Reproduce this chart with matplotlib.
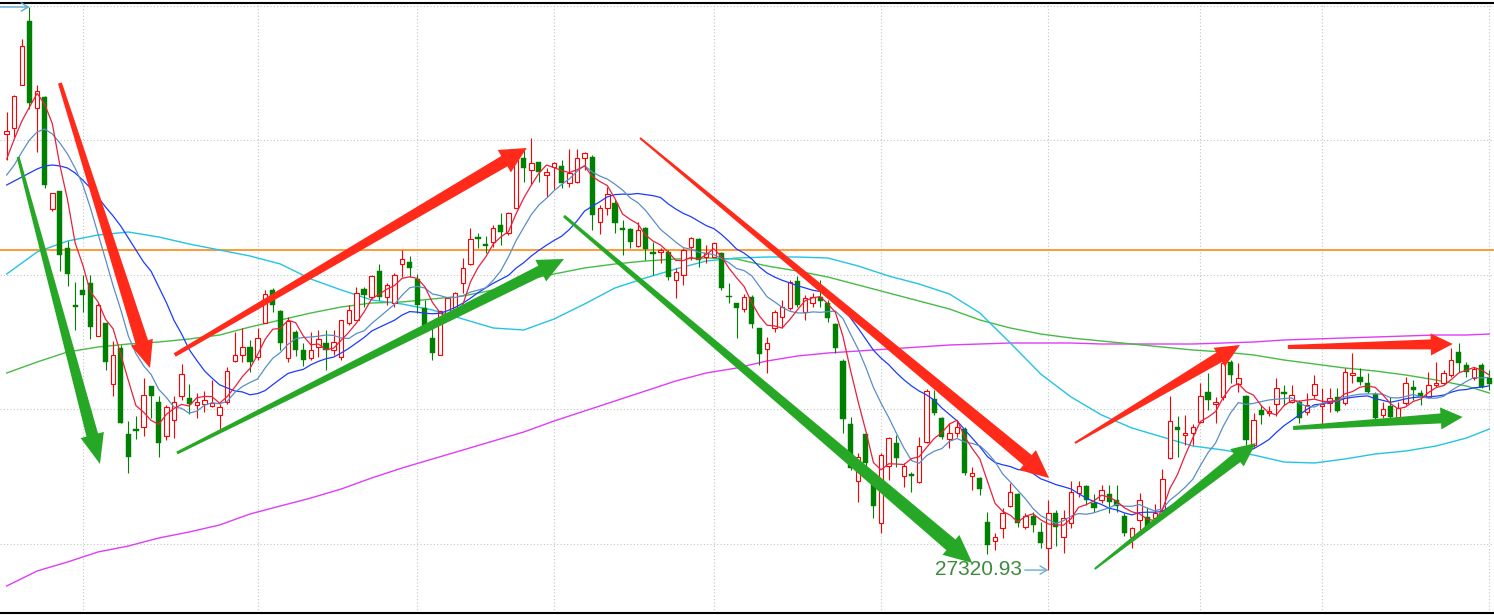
import numpy as np
import pandas as pd
import matplotlib
matplotlib.use("Agg")
import matplotlib.pyplot as plt
from matplotlib.patches import Polygon
from matplotlib.transforms import IdentityTransform

# ---------------- data ----------------
opens = [27757, 27763, 27806, 27870, 27783, 27794, 27682, 27700, 27643, 27586,
         27601, 27608, 27555, 27568, 27507, 27543, 27457, 27462, 27464, 27505,
         27489, 27455, 27471, 27495, 27493, 27486, 27487, 27485, 27476, 27489,
         27530, 27536, 27544, 27534, 27568, 27601, 27580, 27533, 27559, 27541,
         27533, 27544, 27548, 27541, 27534, 27568, 27571, 27602, 27594, 27620,
         27594, 27588, 27627, 27629, 27612, 27583, 27553, 27536, 27571, 27581,
         27608, 27627, 27654, 27647, 27649, 27666, 27658, 27683, 27733, 27721,
         27729, 27716, 27724, 27725, 27708, 27709, 27733, 27734, 27669, 27683,
         27688, 27663, 27662, 27645, 27663, 27639, 27639, 27639, 27611, 27616,
         27644, 27652, 27634, 27634, 27638, 27595, 27588, 27582, 27594, 27563,
         27542, 27563, 27574, 27583, 27610, 27579, 27588, 27594, 27588, 27567,
         27530, 27467, 27410, 27457, 27417, 27368, 27425, 27448, 27415, 27417,
         27409, 27449, 27492, 27473, 27452, 27458, 27462, 27415, 27413, 27369,
         27350, 27363, 27385, 27397, 27364, 27375, 27359, 27343, 27378, 27354,
         27368, 27398, 27405, 27388, 27391, 27397, 27391, 27375, 27354, 27371,
         27374, 27373, 27381, 27433, 27464, 27456, 27458, 27469, 27499, 27487,
         27494, 27529, 27507, 27495, 27446, 27481, 27478, 27487, 27499, 27489,
         27489, 27479, 27496, 27485, 27488, 27494, 27488, 27516, 27514, 27508,
         27497, 27476, 27485, 27474, 27488, 27504, 27498, 27494, 27506, 27508,
         27516, 27539, 27526, 27513, 27526, 27513]
highs = [27779, 27796, 27852, 27884, 27806, 27795, 27698, 27700, 27650, 27609,
         27616, 27616, 27588, 27568, 27550, 27546, 27470, 27475, 27513, 27505,
         27495, 27486, 27495, 27527, 27507, 27498, 27500, 27511, 27487, 27524,
         27559, 27563, 27551, 27563, 27601, 27603, 27581, 27574, 27561, 27548,
         27559, 27561, 27561, 27561, 27571, 27586, 27604, 27604, 27616, 27627,
         27608, 27618, 27641, 27635, 27617, 27591, 27563, 27580, 27594, 27599,
         27633, 27663, 27658, 27655, 27666, 27678, 27679, 27741, 27742, 27753,
         27729, 27723, 27729, 27731, 27742, 27742, 27739, 27736, 27686, 27704,
         27691, 27671, 27663, 27669, 27664, 27649, 27643, 27641, 27623, 27643,
         27654, 27653, 27646, 27648, 27639, 27608, 27588, 27597, 27596, 27563,
         27554, 27581, 27591, 27611, 27615, 27596, 27598, 27611, 27591, 27568,
         27532, 27474, 27438, 27458, 27418, 27438, 27454, 27456, 27428, 27419,
         27454, 27502, 27501, 27474, 27468, 27471, 27464, 27424, 27414, 27379,
         27358, 27383, 27408, 27398, 27378, 27379, 27369, 27391, 27381, 27381,
         27410, 27410, 27406, 27397, 27406, 27406, 27406, 27378, 27364, 27398,
         27384, 27387, 27422, 27495, 27475, 27476, 27467, 27508, 27518, 27494,
         27532, 27531, 27528, 27496, 27478, 27486, 27485, 27513, 27506, 27506,
         27491, 27498, 27516, 27503, 27503, 27503, 27523, 27538, 27523, 27518,
         27499, 27489, 27494, 27489, 27514, 27511, 27501, 27519, 27529, 27521,
         27543, 27548, 27529, 27524, 27528, 27521]
lows = [27731, 27754, 27806, 27782, 27739, 27703, 27680, 27620, 27605, 27561,
        27579, 27552, 27555, 27521, 27495, 27468, 27418, 27452, 27455, 27473,
        27434, 27451, 27453, 27491, 27477, 27473, 27479, 27484, 27462, 27487,
        27529, 27529, 27519, 27531, 27568, 27579, 27541, 27529, 27535, 27525,
        27531, 27534, 27521, 27536, 27531, 27566, 27571, 27584, 27592, 27591,
        27586, 27584, 27614, 27614, 27578, 27563, 27531, 27536, 27571, 27578,
        27598, 27626, 27643, 27638, 27644, 27646, 27656, 27683, 27709, 27707,
        27709, 27694, 27702, 27703, 27704, 27708, 27721, 27661, 27657, 27676,
        27658, 27636, 27643, 27644, 27631, 27616, 27628, 27611, 27593, 27606,
        27631, 27624, 27628, 27634, 27601, 27588, 27553, 27579, 27563, 27526,
        27518, 27559, 27563, 27581, 27584, 27571, 27584, 27584, 27569, 27538,
        27458, 27421, 27389, 27424, 27373, 27358, 27411, 27424, 27404, 27399,
        27408, 27448, 27476, 27452, 27443, 27454, 27416, 27401, 27396, 27337,
        27341, 27353, 27384, 27364, 27362, 27359, 27343, 27320.93, 27345, 27338,
        27363, 27394, 27386, 27379, 27388, 27378, 27379, 27355, 27343, 27361,
        27361, 27371, 27379, 27432, 27434, 27446, 27446, 27468, 27481, 27468,
        27491, 27508, 27499, 27446, 27444, 27467, 27475, 27475, 27486, 27488,
        27468, 27476, 27493, 27465, 27479, 27479, 27486, 27508, 27506, 27498,
        27471, 27473, 27473, 27473, 27486, 27491, 27486, 27493, 27504, 27506,
        27514, 27519, 27514, 27511, 27503, 27501]
closes = [27760, 27795, 27845, 27788, 27800, 27706, 27698, 27636, 27617, 27584,
          27596, 27564, 27586, 27529, 27536, 27468, 27434, 27460, 27496, 27495,
          27448, 27484, 27489, 27517, 27487, 27489, 27491, 27488, 27484, 27520,
          27536, 27544, 27529, 27553, 27597, 27586, 27548, 27570, 27541, 27531,
          27541, 27552, 27541, 27549, 27571, 27581, 27598, 27596, 27615, 27594,
          27606, 27616, 27632, 27623, 27586, 27564, 27538, 27580, 27593, 27598,
          27623, 27652, 27652, 27645, 27663, 27659, 27678, 27741, 27723, 27728,
          27719, 27719, 27728, 27708, 27718, 27733, 27738, 27676, 27683, 27697,
          27668, 27661, 27649, 27661, 27642, 27637, 27641, 27614, 27619, 27641,
          27653, 27631, 27638, 27648, 27603, 27594, 27583, 27594, 27567, 27537,
          27548, 27579, 27584, 27609, 27586, 27593, 27594, 27590, 27573, 27543,
          27472, 27423, 27434, 27428, 27385, 27436, 27453, 27433, 27425, 27415,
          27445, 27500, 27478, 27454, 27458, 27464, 27418, 27418, 27402, 27346,
          27354, 27378, 27399, 27368, 27375, 27366, 27348, 27378, 27364, 27373,
          27399, 27405, 27391, 27383, 27401, 27389, 27385, 27358, 27363, 27391,
          27362, 27378, 27412, 27470, 27461, 27458, 27464, 27495, 27491, 27489,
          27528, 27516, 27513, 27451, 27471, 27476, 27480, 27503, 27497, 27496,
          27473, 27486, 27507, 27487, 27493, 27480, 27519, 27518, 27509, 27499,
          27473, 27482, 27474, 27483, 27508, 27501, 27494, 27506, 27508, 27518,
          27531, 27528, 27519, 27522, 27504, 27507]

# moving-average values before enough candles exist
ma5_head = [27732, 27752, 27770, 27784]
ma10_head = [27716, 27726, 27739, 27751, 27759, 27762, 27757, 27748, 27737]
ma20_head = [27706, 27710, 27714, 27718, 27722, 27725, 27726, 27725, 27723, 27718,
             27711, 27703, 27694, 27684, 27675, 27665, 27653, 27641, 27629]

long_idx = [0, 4, 8, 12, 16, 20, 24, 28, 32, 36, 40, 44, 48, 52, 56, 60, 64, 68,
            72, 76, 80, 84, 88, 92, 96, 100, 104, 108, 112, 116, 120, 124, 128,
            132, 136, 140, 144, 148, 152, 156, 160, 164, 168, 172, 176, 180, 184,
            188, 192, 195]
ma_cyan = [27617, 27639, 27650, 27656, 27659, 27654, 27647, 27641, 27635, 27627,
           27612, 27601, 27591, 27587, 27581, 27572, 27563, 27561, 27572, 27587,
           27603, 27613, 27622, 27630, 27633, 27634, 27634, 27633, 27625, 27615,
           27607, 27597, 27578, 27548, 27517, 27494, 27476, 27463, 27454, 27445,
           27441, 27436, 27429, 27428, 27432, 27437, 27440, 27445, 27453, 27462]
ma_green = [27518, 27529, 27539, 27544, 27547, 27549, 27552, 27556, 27564, 27571,
            27578, 27584, 27588, 27589, 27592, 27595, 27601, 27611, 27617, 27623,
            27627, 27630, 27632, 27633, 27632, 27625, 27620, 27614, 27606, 27598,
            27590, 27582, 27571, 27563, 27557, 27553, 27550, 27547, 27544, 27541,
            27539, 27536, 27531, 27527, 27523, 27520, 27516, 27511, 27505, 27498]
ma_magenta = [27305, 27320, 27329, 27339, 27345, 27353, 27359, 27366, 27377, 27385,
              27393, 27402, 27413, 27423, 27432, 27441, 27450, 27459, 27470, 27480,
              27490, 27500, 27510, 27518, 27523, 27530, 27535, 27538, 27540, 27542,
              27544, 27546, 27547, 27548, 27548, 27548, 27547, 27547, 27547, 27547,
              27548, 27549, 27551, 27552, 27553, 27554, 27555, 27556, 27556, 27557]

hline_price = 27641
low_label = "27320.93"
low_index = 137
high_index = 3

# trend arrows: (tail index, tail price, tip index, tip price, colour)
arrows = [
    (7.0, 27808, 18.85, 27523, "red"),
    (1.5, 27734, 12.27, 27427, "green"),
    (22.1, 27536, 68.4, 27743, "red"),
    (22.4, 27438, 73.3, 27632, "green"),
    (83.3, 27753, 137.1, 27413, "red"),
    (73.3, 27675, 127.0, 27328, "green"),
    (140.5, 27448, 162.2, 27546, "red"),
    (143.1, 27322, 164.3, 27448, "green"),
    (168.5, 27544, 190.2, 27547, "red"),
    (169.2, 27463, 191.5, 27474, "green"),
]
# (tail width, shaft width at head, head width, head length) in pixels
arrow_shapes = [(4, 13, 23, 27), (3, 12, 24, 30), (4, 12, 26, 26), (3, 11, 24, 26),
                (2, 13, 26, 28), (3, 14, 26, 28), (2, 11, 22, 24), (2, 11, 22, 24),
                (4, 10, 22, 22), (4, 10, 22, 22)]

# ---------------- figure ----------------
W, H, DPI = 1494, 615, 100
fig = plt.figure(figsize=(W / DPI, H / DPI), dpi=DPI, facecolor="white")
ax = fig.add_axes([0, 1.7 / H, 1, (613.3 - 2.7) / H])
ax.set_facecolor("white")

o = np.array(opens, float)
h = np.array(highs, float)
l = np.array(lows, float)
c = np.array(closes, float)
n = len(c)
x = np.arange(n)

ax.set_xlim(-0.88, 195.62)
ax.set_ylim(27277.7, 27888.3)

# grid
xgrid = [10, 33, 54, 72, 93, 115, 137, 157, 173, 195]
ygrid = [27885, 27751, 27616, 27482, 27347]
for gx in xgrid:
    ax.axvline(gx, color="#c4c4c4", lw=0.8, ls=(0, (1, 2)), zorder=0)
for gy in ygrid:
    ax.axhline(gy, color="#c4c4c4", lw=0.8, ls=(0, (1, 2)), zorder=0)

# orange horizontal level
ax.axhline(hline_price, color="#ff9933", lw=1.4, zorder=1)

# long moving averages
ax.plot(long_idx, ma_magenta, color="#e03cf8", lw=1.0, zorder=3)
ax.plot(long_idx, ma_green, color="#46bb46", lw=1.0, zorder=3)
ax.plot(long_idx, ma_cyan, color="#22c4e4", lw=1.0, zorder=3)

# candles
up = c >= o
bot = np.minimum(o, c)
hgt = np.maximum(np.abs(c - o), 1.0)
ax.vlines(x[up], l[up], h[up], color="#ff0000", lw=0.8, zorder=4)
ax.vlines(x[~up], l[~up], h[~up], color="#008000", lw=0.8, zorder=4)
ax.bar(x[up], hgt[up], bottom=bot[up], width=0.58, facecolor="white",
       edgecolor="#ff0000", lw=0.8, zorder=5)
ax.bar(x[~up], hgt[~up], bottom=bot[~up], width=0.68, facecolor="#008000",
       edgecolor="#008000", lw=0.3, zorder=5)

# short moving averages
cs = pd.Series(c)
ma5 = cs.rolling(5).mean().to_numpy()
ma5[:len(ma5_head)] = ma5_head
ma10 = cs.rolling(10).mean().to_numpy()
ma10[:len(ma10_head)] = ma10_head
ma20 = cs.rolling(20).mean().to_numpy()
ma20[:len(ma20_head)] = ma20_head
ax.plot(x, ma20, color="#1a3cff", lw=0.9, zorder=6)
ax.plot(x, ma10, color="#5a8ec6", lw=0.9, zorder=6)
ax.plot(x, ma5, color="#e8203c", lw=0.9, zorder=6)

# high / low markers
ax.annotate("", xy=(high_index, h[high_index]), xytext=(-0.88, h[high_index]),
            arrowprops=dict(arrowstyle="->,head_length=0.5,head_width=0.3",
                            color="#5ea8cc", lw=1.0, shrinkA=0, shrinkB=0), zorder=7)
ax.annotate("", xy=(low_index, l[low_index]), xytext=(133.9, l[low_index]),
            arrowprops=dict(arrowstyle="->,head_length=0.5,head_width=0.3",
                            color="#6aaed0", lw=1.0, shrinkA=0, shrinkB=0), zorder=7)
ax.text(133.55, l[low_index] + 0.5, low_label, ha="right", va="center",
        fontsize=15, color="#3d8b3d", family=["Liberation Sans", "DejaVu Sans"],
        zorder=7)

# trend arrows (tapered polygons in pixel space)
cols = {"red": "#ff2a1a", "green": "#26a826"}
for (tx, ty, hx, hy, col), (tw, sw, hw, hl) in zip(arrows, arrow_shapes):
    p0 = ax.transData.transform((tx, ty))
    p1 = ax.transData.transform((hx, hy))
    d = p1 - p0
    u = d / np.hypot(*d)
    nv = np.array([-u[1], u[0]])
    b = p1 - hl * u
    pts = [p0 + nv * tw / 2, b + nv * sw / 2, b + nv * hw / 2, p1,
           b - nv * hw / 2, b - nv * sw / 2, p0 - nv * tw / 2]
    ax.add_patch(Polygon(pts, closed=True, facecolor=cols[col], edgecolor="none",
                         transform=IdentityTransform(), zorder=8))

# frame: only top and bottom solid lines
for s in ("left", "right"):
    ax.spines[s].set_visible(False)
for s in ("top", "bottom"):
    ax.spines[s].set_linewidth(1.5)
    ax.spines[s].set_color("black")
ax.set_xticks([])
ax.set_yticks([])

fig.savefig("out.png", dpi=DPI, facecolor="white")
